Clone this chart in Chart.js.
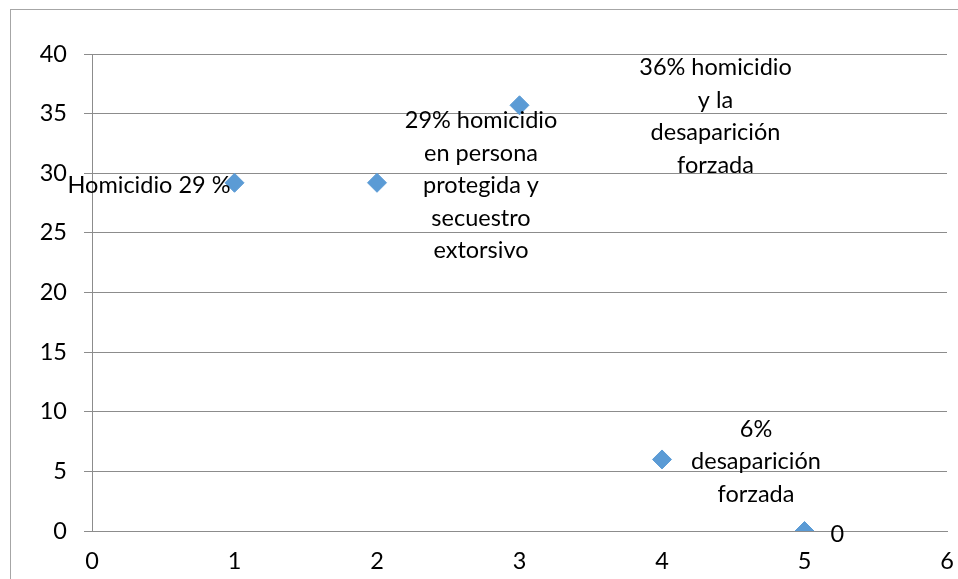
<!DOCTYPE html>
<html>
<head>
<meta charset="utf-8">
<script src="https://cdn.jsdelivr.net/npm/chart.js@4"></script>
<style>
  html, body { margin: 0; padding: 0; background: #fff; }
  #wrap { width: 958px; height: 579px; position: relative; }
</style>
</head>
<body>
<div id="wrap"><canvas id="grafico"></canvas></div>
<script>
// datos
var valoresX = [1, 2, 3, 4, 5]
var valoresY = [29.2, 29.2, 35.7, 6.0, 0]
var etiquetas = [
  ["Homicidio 29 %"],
  ["29% homicidio", "en persona", "protegida y", "secuestro", "extorsivo"],
  ["36% homicidio", "y la", "desaparición", "forzada"],
  ["6%", "desaparición", "forzada"],
  ["0"]
]

// donde va cada etiqueta respecto a su punto (dx, dy, alineacion)
var posEtiquetas = [
  {dx: -4, dy: 3, align: 'right'},
  {dx: 104, dy: 3, align: 'center'},
  {dx: 196, dy: 11, align: 'center'},
  {dx: 94, dy: 2, align: 'center'},
  {dx: 26, dy: 3, align: 'left'}
]

const fuente = "Lato, 'Open Sans', sans-serif"
const tam = 23.5

const marco = {
  id: 'marco',
  beforeDraw(chart) {
    const c = chart.ctx
    c.save()
    c.strokeStyle = '#a6a6a6'
    c.lineWidth = 1
    c.strokeRect(10.5, 9.5, 1000, 1000)
    c.restore()
  }
}

const etiquetasPlugin = {
  id: 'etiquetasPlugin',
  afterDatasetsDraw(chart) {
    const c = chart.ctx
    const meta = chart.getDatasetMeta(0)
    c.save()
    c.fillStyle = '#000'
    c.font = tam + 'px ' + fuente
    c.textBaseline = 'middle'
    meta.data.forEach(function(p, i) {
      const lineas = etiquetas[i]
      const pos = posEtiquetas[i]
      const alto = 32.5
      const y0 = p.y + pos.dy - (lineas.length - 1) * alto / 2
      c.textAlign = pos.align
      lineas.forEach(function(t, j) {
        c.fillText(t, p.x + pos.dx, y0 + j * alto)
      })
    })
    c.restore()
  }
}

const datos = {
  datasets: [{
    data: valoresX.map(function(x, i) { return {x: x, y: valoresY[i]} }),
    backgroundColor: '#5b9bd5',
    borderColor: '#5b9bd5',
    borderWidth: 1,
    pointStyle: 'rectRot',
    pointRadius: 9.5,
    pointHoverRadius: 9.5
  }]
}

const config = {
  type: 'scatter',
  data: datos,
  options: {
    responsive: false,
    animation: false,
    layout: { padding: { left: 0, right: 11, top: 54, bottom: 0 } },
    plugins: {
      legend: { display: false },
      tooltip: { enabled: false }
    },
    scales: {
      x: {
        min: 0, max: 6,
        ticks: { stepSize: 1, color: '#000', font: { family: fuente, size: tam }, padding: 10 },
        grid: { display: false, drawTicks: true, tickLength: 6, color: '#8c8c8c' },
        border: { color: '#8c8c8c' },
        afterFit(s) { s.height = 48; s.paddingRight = 0; s.paddingLeft = 0 }
      },
      y: {
        min: 0, max: 40,
        ticks: { stepSize: 5, color: '#000', font: { family: fuente, size: tam }, padding: 17 },
        grid: { color: '#8c8c8c', tickLength: 8 },
        border: { color: '#8c8c8c' },
        afterFit(s) { s.width = 92; s.paddingTop = 0; s.paddingBottom = 0 }
      }
    }
  },
  plugins: [marco, etiquetasPlugin]
}

const canvas = document.getElementById('grafico')
canvas.width = 958
canvas.height = 579
const grafico = new Chart(canvas, config)
</script>
</body>
</html>
